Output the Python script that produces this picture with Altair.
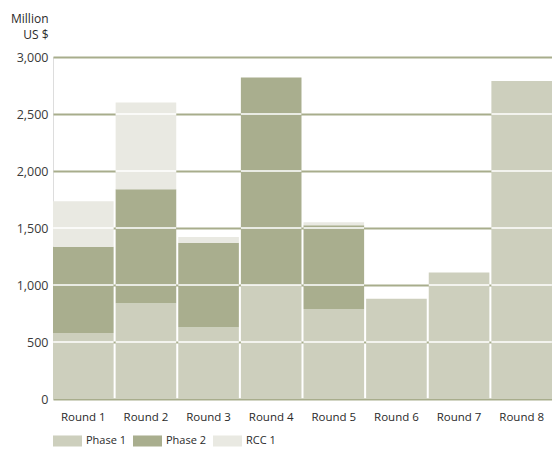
import altair as alt
import pandas as pd

rounds = ["Round 1", "Round 2", "Round 3", "Round 4", "Round 5", "Round 6", "Round 7", "Round 8"]
phase1 = [580, 840, 630, 1000, 790, 880, 1110, 2790]
phase2 = [755, 1000, 740, 1820, 735, 0, 0, 0]
rcc1 = [400, 760, 50, 0, 25, 0, 0, 0]
series = ["Phase 1", "Phase 2", "RCC 1"]
colors = ["#cdcfbd", "#a9ae8e", "#e9e9e2"]
grid_values = [0, 500, 1000, 1500, 2000, 2500, 3000]

rows = []
for i, r in enumerate(rounds):
    for k, (s, vals) in enumerate(zip(series, [phase1, phase2, rcc1])):
        rows.append({"Round": r, "Series": s, "Value": vals[i], "order": k})
df = pd.DataFrame(rows)

totals = [a + b + c for a, b, c in zip(phase1, phase2, rcc1)]
tick_rows = []
for r, t in zip(rounds, totals):
    for g in grid_values[1:]:
        if g < t:
            tick_rows.append({"Round": r, "g": g})
tdf = pd.DataFrame(tick_rows)

FONT = "Open Sans"
TXT = "#2a2a2a"

xenc = alt.X("Round:N", sort=rounds, title=None,
             scale=alt.Scale(paddingInner=0.032, paddingOuter=0),
             axis=alt.Axis(labelAngle=0, ticks=False, domain=False, grid=False,
                           labelPadding=12, labelFontSize=11.5, labelFont=FONT, labelColor=TXT))

bars = alt.Chart(df).mark_bar(stroke=None).encode(
    x=xenc,
    y=alt.Y("Value:Q", stack="zero",
            scale=alt.Scale(domain=[0, 3000], nice=False),
            axis=alt.Axis(values=grid_values, format=",d", ticks=False, domain=False,
                          grid=True, gridColor="#a8ad8c", gridWidth=2,
                          labelPadding=5, labelFontSize=12.5, labelFont=FONT, labelColor="#3a3a3a",
                          title=["Million", "US $"], titleAngle=0, titleAlign="right",
                          titleBaseline="alphabetic", titleX=-5, titleY=-35,
                          titleFontSize=12, titleFont=FONT, titleFontWeight="normal",
                          titleColor=TXT, titleLineHeight=16)),
    color=alt.Color("Series:N", sort=series,
                    scale=alt.Scale(domain=series, range=colors),
                    legend=alt.Legend(orient="none", direction="horizontal", title=None,
                                      legendX=0, legendY=369,
                                      symbolType="M-1,-0.38H1V0.38H-1Z", symbolSize=841,
                                      symbolStrokeWidth=0, labelOffset=4, columnPadding=6,
                                      labelFontSize=11, labelFont=FONT, labelColor=TXT,
                                      padding=0)),
    order=alt.Order("order:Q"),
)

ticks = alt.Chart(tdf).mark_tick(color="white", thickness=1.5, size=60.4, orient="horizontal", opacity=1).encode(
    x=alt.X("Round:N", sort=rounds),
    y=alt.Y("g:Q"),
)

chart = alt.layer(bars, ticks).properties(
    width=499, height=342,
    padding={"left": 45, "top": 49, "right": 0, "bottom": 48},
    autosize=alt.AutoSizeParams(type="none"),
).configure_view(stroke=None).configure(background="white")

chart.save("out.html", embed_options={"renderer": "svg", "actions": False})
